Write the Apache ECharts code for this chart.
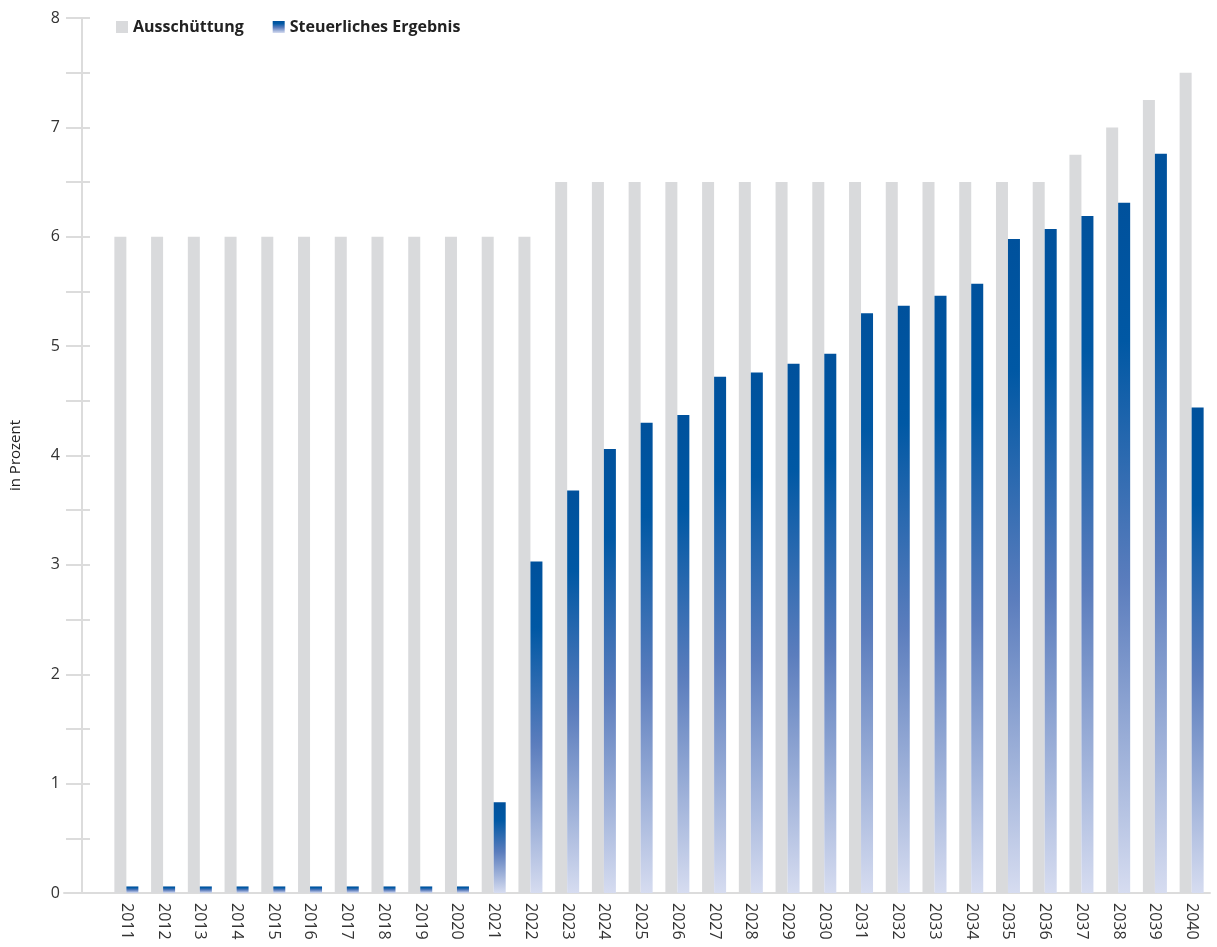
<!DOCTYPE html>
<html>
<head>
<meta charset="utf-8">
<script src="https://cdn.jsdelivr.net/npm/echarts@6/dist/echarts.min.js"></script>
<style>
  html, body { margin: 0; padding: 0; background: #fff; }
  #main { width: 1217px; height: 947px; }
</style>
</head>
<body>
<div id="main"></div>
<script>
// Jahre
const years = ["2011", "2012", "2013", "2014", "2015", "2016", "2017", "2018", "2019", "2020",
  "2021", "2022", "2023", "2024", "2025", "2026", "2027", "2028", "2029", "2030",
  "2031", "2032", "2033", "2034", "2035", "2036", "2037", "2038", "2039", "2040"];
// Ausschüttung in Prozent
const ausschuettung = [6, 6, 6, 6, 6, 6, 6, 6, 6, 6,
  6, 6, 6.5, 6.5, 6.5, 6.5, 6.5, 6.5, 6.5, 6.5,
  6.5, 6.5, 6.5, 6.5, 6.5, 6.5, 6.75, 7, 7.25, 7.5];
// Steuerliches Ergebnis in Prozent
const steuerlich = [0.06, 0.06, 0.06, 0.06, 0.06, 0.06, 0.06, 0.06, 0.06, 0.06,
  0.83, 3.03, 3.68, 4.06, 4.30, 4.37, 4.72, 4.76, 4.84, 4.93,
  5.30, 5.37, 5.46, 5.57, 5.98, 6.07, 6.19, 6.31, 6.76, 4.44];

const lineColor = "#dcdcdc";
const font = "'Open Sans', sans-serif";

let myChart = echarts.init(document.getElementById("main"));

let blueGradient = new echarts.graphic.LinearGradient(0, 0, 0, 1, [
  { offset: 0, color: "#00519c" },
  { offset: 0.2, color: "#0058a4" },
  { offset: 0.55, color: "#5b7dbd" },
  { offset: 1, color: "#d6dcf0" }
]);

let option = {
  animation: false,
  grid: [
    { left: 108, right: 7, top: 18, bottom: 54 },
    // nur für die verlängerte x-Achsenlinie
    { left: 64, right: 7, top: 18, bottom: 54 },
    // nur für die nach innen zeigenden Ticks
    { left: 82, right: 7, top: 18, bottom: 54 }
  ],
  legend: {
    left: 111,
    top: 14,
    icon: "rect",
    itemWidth: 12,
    itemHeight: 12,
    itemGap: 29,
    textStyle: {
      fontFamily: font,
      fontWeight: "bold",
      fontSize: 16,
      color: "#222"
    },
    data: ["Ausschüttung", "Steuerliches Ergebnis"]
  },
  xAxis: [
    {
      type: "category",
      gridIndex: 0,
      data: years,
      axisLine: { show: false },
      axisTick: { show: false },
      axisLabel: {
        rotate: -90,
        margin: 10,
        fontFamily: font,
        fontSize: 16,
        color: "#333"
      }
    },
    {
      type: "category",
      gridIndex: 1,
      data: [""],
      axisLine: { show: true, lineStyle: { color: lineColor, width: 2 } },
      axisTick: { show: false },
      axisLabel: { show: false }
    },
    {
      type: "category",
      gridIndex: 2,
      data: [""],
      show: false
    }
  ],
  yAxis: [
    {
      type: "value",
      gridIndex: 0,
      min: 0,
      max: 8,
      interval: 0.5,
      offset: 26,
      name: "in Prozent",
      nameLocation: "middle",
      nameGap: 59,
      nameTextStyle: { fontFamily: font, fontSize: 15, color: "#222" },
      axisLine: { show: true, lineStyle: { color: lineColor, width: 2 } },
      axisTick: { show: true, length: 16, lineStyle: { color: lineColor, width: 2 } },
      splitLine: { show: false },
      axisLabel: {
        margin: 22,
        fontFamily: font,
        fontSize: 16,
        color: "#333",
        formatter: v => (v % 1 === 0 ? String(v) : "")
      }
    },
    {
      type: "value",
      gridIndex: 1,
      show: false
    },
    {
      type: "value",
      gridIndex: 2,
      min: 0,
      max: 8,
      interval: 0.5,
      axisLine: { show: false },
      axisTick: { show: true, inside: true, length: 8, lineStyle: { color: lineColor, width: 2 } },
      axisLabel: { show: false },
      splitLine: { show: false }
    }
  ],
  series: [
    {
      name: "Ausschüttung",
      type: "bar",
      xAxisIndex: 0,
      yAxisIndex: 0,
      barWidth: 12,
      barGap: "0%",
      itemStyle: { color: "#d9dadc" },
      data: ausschuettung
    },
    {
      name: "Steuerliches Ergebnis",
      type: "bar",
      xAxisIndex: 0,
      yAxisIndex: 0,
      barWidth: 12,
      barGap: "0%",
      itemStyle: { color: blueGradient },
      data: steuerlich
    }
  ]
};

myChart.setOption(option);
</script>
</body>
</html>
